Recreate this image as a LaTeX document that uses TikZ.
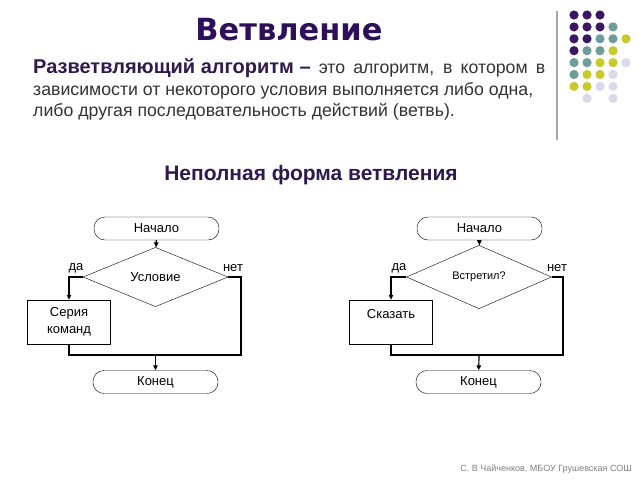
\documentclass[tikz,border=0pt]{standalone}
\usepackage{fontspec}
\setmainfont{Liberation Sans}
\newfontfamily\titlefont{DejaVu Sans}
\usetikzlibrary{shapes.geometric,arrows.meta}
\definecolor{deepviolet}{HTML}{2E0F5C}
\definecolor{inkviolet}{HTML}{2E1A4E}
\definecolor{textgray}{HTML}{333333}
\definecolor{rulegray}{HTML}{A8A8A8}
\definecolor{dotviolet}{HTML}{3B1763}
\definecolor{dotteal}{HTML}{6E9C9A}
\definecolor{dotolive}{HTML}{C9C92B}
\definecolor{dotlilac}{HTML}{D9D9E7}
\newcommand{\fsz}[2]{\fontsize{#1}{#2}\selectfont}
\begin{document}
\begin{tikzpicture}[x=1pt,y=-1pt,
    term/.style={draw,rounded corners=11pt,minimum width=125pt,minimum height=23pt,inner sep=0pt,font=\fsz{13}{15}},
    cond/.style={draw,diamond,minimum width=145pt,minimum height=44pt,inner sep=0pt,font=\fsz{13}{15}},
    act/.style={draw,minimum width=83pt,minimum height=44pt,inner sep=0pt,align=center,font=\fsz{13}{17}},
    lbl/.style={font=\fsz{13}{15}},
    arr/.style={-{Triangle[length=5pt,width=4.5pt]}},
    line/.style={line width=1.2pt}]
  \useasboundingbox[fill=white] (0,0) rectangle (640,480);
  \node[font=\titlefont\bfseries\fsz{30.5}{34},text=deepviolet] (title) at (289,29.5) {Ветвление};
  \node[anchor=base west,inner sep=0pt,font=\fsz{17.7}{21},text=textgray] (def1) at (33,73)
    {\hbox to 512pt{\mbox{\bfseries\fsz{20}{21}\color{inkviolet}Разветвляющий алгоритм –} это алгоритм, в котором в}};
  \node[anchor=base west,inner sep=0pt,font=\fsz{17.7}{21},text=textgray] (def2) at (33,95)
    {зависимости от некоторого условия выполняется либо одна,};
  \node[anchor=base west,inner sep=0pt,font=\fsz{17.7}{21},text=textgray] (def3) at (33,116)
    {либо другая последовательность действий (ветвь).};
  \draw[rulegray,line] (557,11) -- (557,140);
  \foreach \i/\j/\c in {0/0/dotviolet,1/0/dotviolet,2/0/dotviolet,
      0/1/dotviolet,1/1/dotviolet,2/1/dotviolet,3/1/dotteal,
      0/2/dotviolet,1/2/dotviolet,2/2/dotteal,3/2/dotteal,4/2/dotolive,
      0/3/dotviolet,1/3/dotteal,2/3/dotteal,3/3/dotolive,
      0/4/dotteal,1/4/dotteal,2/4/dotolive,3/4/dotolive,4/4/dotlilac,
      0/5/dotteal,1/5/dotolive,2/5/dotolive,3/5/dotlilac,
      0/6/dotolive,1/6/dotolive,2/6/dotlilac,3/6/dotlilac,
      1/7/dotlilac,3/7/dotlilac}
    \fill[\c] (574+13*\i,15+11.9*\j) circle (4.6);
  \node[font=\bfseries\fsz{21}{24},text=inkviolet] (subtitle) at (311,175) {Неполная форма ветвления};
  % left scheme
  \node[term] (start1) at (156.5,228.5) {Начало};
  \node[cond] (cond1) at (155.5,277) {Условие};
  \node[act] (act1) at (69,322) {Серия\\команд};
  \node[term] (end1) at (155.5,382) {Конец};
  \coordinate (m1) at (155.5,355);
  \coordinate (r1) at (241,355);
  \node[lbl] (yes1) at (76,268) {да};
  \node[lbl] (no1) at (233,268) {нет};
  \draw[line,arr] (start1) -- (cond1);
  \draw[line,arr] (cond1.west) -| (act1.north);
  \draw[line] (cond1.east) -| (r1) -- (m1);
  \draw[line] (act1.south) |- (m1);
  \draw[line,arr] (m1) -- (end1);
  % right scheme
  \node[term] (start2) at (479.5,228.5) {Начало};
  \node[cond,font=\fsz{11}{13}] (cond2) at (479,277) {Встретил?};
  \node[act] (act2) at (391,322) {Сказать\\\mbox{}};
  \node[term] (end2) at (478.5,382) {Конец};
  \coordinate (m2) at (479,355);
  \coordinate (r2) at (563,355);
  \node[lbl] (yes2) at (399,268) {да};
  \node[lbl] (no2) at (557,268) {нет};
  \draw[line,arr] (start2) -- (cond2);
  \draw[line,arr] (cond2.west) -| (act2.north);
  \draw[line] (cond2.east) -| (r2) -- (m2);
  \draw[line] (act2.south) |- (m2);
  \draw[line,arr] (m2) -- (end2);
  \node[font=\fsz{9}{11},text=gray] (credit) at (546,469) {С. В Чайченков, МБОУ Грушевская СОШ};
\end{tikzpicture}
\end{document}
